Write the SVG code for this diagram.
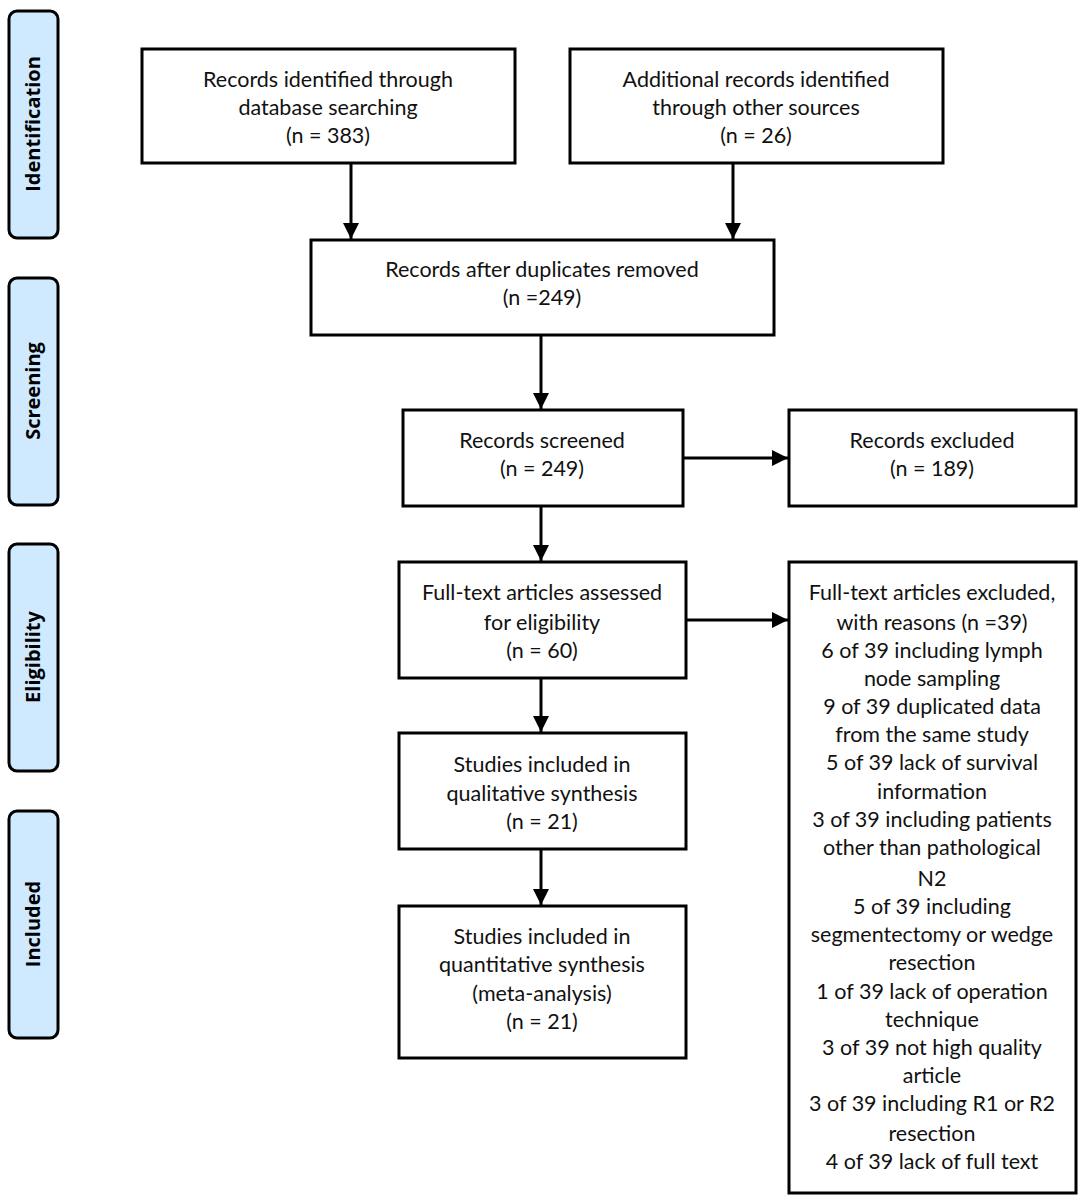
<svg xmlns="http://www.w3.org/2000/svg" width="1084" height="1201" viewBox="0 0 1084 1201">
<defs>
<style>
.box{fill:#fff;stroke:#000;stroke-width:3}
.side{fill:#cfeaff;stroke:#000;stroke-width:3}
.t{font-family:Lato,"Open Sans",sans-serif;font-size:21.5px;fill:#111;text-anchor:middle}
.s{font-family:"Open Sans",Lato,sans-serif;font-size:20px;font-weight:bold;fill:#000;text-anchor:middle}
.c{stroke:#000;stroke-width:3;fill:none}
</style>
<marker id="ah" viewBox="0 0 10 10" refX="10" refY="5" markerWidth="5.5" markerHeight="5.5" orient="auto" markerUnits="strokeWidth">
<path d="M0,0 L10,5 L0,10 z" fill="#000"/>
</marker>
</defs>
<rect width="1084" height="1201" fill="#fff"/>

<g id="side-identification">
<rect class="side" x="9" y="11" width="49" height="227" rx="8"/>
<text class="s" transform="translate(40,124) rotate(-90)">Identification</text>
</g>
<g id="side-screening">
<rect class="side" x="9" y="278" width="49" height="227" rx="8"/>
<text class="s" transform="translate(40,391) rotate(-90)">Screening</text>
</g>
<g id="side-eligibility">
<rect class="side" x="9" y="544" width="49" height="227" rx="8"/>
<text class="s" transform="translate(40,657) rotate(-90)">Eligibility</text>
</g>
<g id="side-included">
<rect class="side" x="9" y="811" width="49" height="227" rx="8"/>
<text class="s" transform="translate(40,924) rotate(-90)">Included</text>
</g>

<g id="connectors">
<line class="c" x1="351" y1="163" x2="351" y2="239" marker-end="url(#ah)"/>
<line class="c" x1="733" y1="163" x2="733" y2="239" marker-end="url(#ah)"/>
<line class="c" x1="541" y1="335" x2="541" y2="409" marker-end="url(#ah)"/>
<line class="c" x1="683" y1="458" x2="788" y2="458" marker-end="url(#ah)"/>
<line class="c" x1="541" y1="506" x2="541" y2="561" marker-end="url(#ah)"/>
<line class="c" x1="686" y1="620" x2="788" y2="620" marker-end="url(#ah)"/>
<line class="c" x1="541" y1="678" x2="541" y2="732" marker-end="url(#ah)"/>
<line class="c" x1="541" y1="849" x2="541" y2="905" marker-end="url(#ah)"/>
</g>

<g id="n1">
<rect class="box" x="142" y="49" width="373" height="114"/>
<text class="t" x="328" y="87">Records identified through</text>
<text class="t" x="328" y="115">database searching</text>
<text class="t" x="328" y="143">(n = 383)</text>
</g>
<g id="n2">
<rect class="box" x="570" y="49" width="373" height="114"/>
<text class="t" x="756" y="87">Additional records identified</text>
<text class="t" x="756" y="115">through other sources</text>
<text class="t" x="756" y="143">(n = 26)</text>
</g>
<g id="n3">
<rect class="box" x="311" y="240" width="463" height="95"/>
<text class="t" x="542" y="277">Records after duplicates removed</text>
<text class="t" x="542" y="305">(n =249)</text>
</g>
<g id="n4">
<rect class="box" x="403" y="410" width="280" height="96"/>
<text class="t" x="542" y="448">Records screened</text>
<text class="t" x="542" y="476">(n = 249)</text>
</g>
<g id="n5">
<rect class="box" x="789" y="410" width="287" height="96"/>
<text class="t" x="932" y="448">Records excluded</text>
<text class="t" x="932" y="476">(n = 189)</text>
</g>
<g id="n6">
<rect class="box" x="399" y="562" width="287" height="116"/>
<text class="t" x="542" y="600">Full-text articles assessed</text>
<text class="t" x="542" y="630">for eligibility</text>
<text class="t" x="542" y="658">(n = 60)</text>
</g>
<g id="n7">
<rect class="box" x="789" y="562" width="287" height="631"/>
<text class="t" x="932" y="600">Full-text articles excluded,</text>
<text class="t" x="932" y="630">with  reasons (n =39)</text>
<text class="t" x="932" y="658">6 of 39 including lymph</text>
<text class="t" x="932" y="686">node sampling</text>
<text class="t" x="932" y="714">9 of 39 duplicated data</text>
<text class="t" x="932" y="742">from the same study</text>
<text class="t" x="932" y="770">5 of 39 lack of survival</text>
<text class="t" x="932" y="799">information</text>
<text class="t" x="932" y="827">3 of 39 including patients</text>
<text class="t" x="932" y="855">other than  pathological</text>
<text class="t" x="932" y="886">N2</text>
<text class="t" x="932" y="914">5 of 39 including</text>
<text class="t" x="932" y="942">segmentectomy or wedge</text>
<text class="t" x="932" y="970">resection</text>
<text class="t" x="932" y="999">1 of 39  lack of operation</text>
<text class="t" x="932" y="1027">technique</text>
<text class="t" x="932" y="1055">3 of 39 not high quality</text>
<text class="t" x="932" y="1083">article</text>
<text class="t" x="932" y="1111">3 of 39 including R1 or R2</text>
<text class="t" x="932" y="1141">resection</text>
<text class="t" x="932" y="1169">4 of 39 lack of full text</text>
</g>
<g id="n8">
<rect class="box" x="399" y="733" width="287" height="116"/>
<text class="t" x="542" y="772">Studies included in</text>
<text class="t" x="542" y="801">qualitative synthesis</text>
<text class="t" x="542" y="829">(n = 21)</text>
</g>
<g id="n9">
<rect class="box" x="399" y="906" width="287" height="152"/>
<text class="t" x="542" y="944">Studies included in</text>
<text class="t" x="542" y="972">quantitative synthesis</text>
<text class="t" x="542" y="1001">(meta-analysis)</text>
<text class="t" x="542" y="1029">(n = 21)</text>
</g>
</svg>
